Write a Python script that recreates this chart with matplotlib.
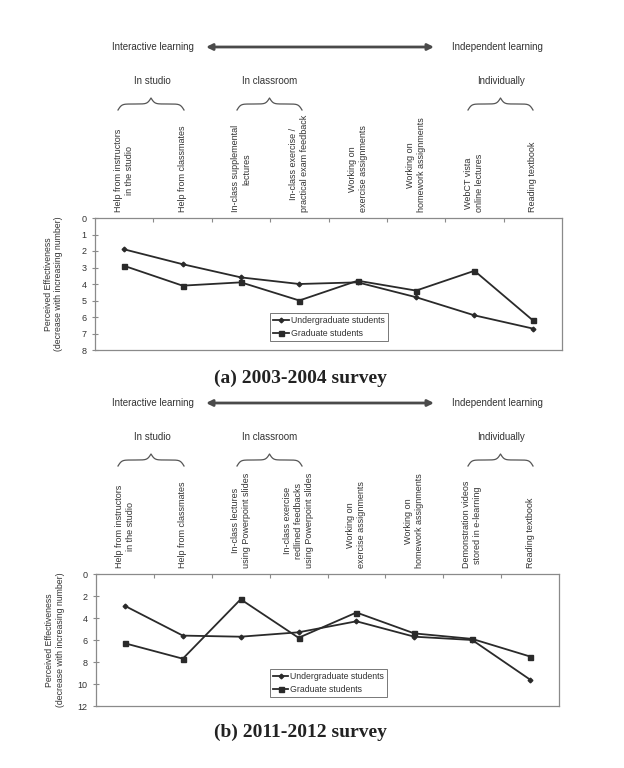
import matplotlib

matplotlib.use("Agg")

import matplotlib.pyplot as plt
import numpy as np

plt.rcParams["font.family"] = ["Liberation Sans", "DejaVu Sans"]

# ---- data -------------------------------------------------------------
labels_a = [
    "Help from instructors\nin the studio",
    "Help from classmates",
    "In-class supplemental\nlectures",
    "In-class exercise /\npractical exam feedback",
    "Working on\nexercise assignments",
    "Working on\nhomework assignments",
    "WebCT vista\nonline lectures",
    "Reading textbook",
]
under_a = [1.9, 2.8, 3.6, 4.0, 3.9, 4.8, 5.9, 6.7]
grad_a = [2.9, 4.1, 3.9, 5.0, 3.8, 4.4, 3.2, 6.2]
yticks_a = [0, 1, 2, 3, 4, 5, 6, 7, 8]

labels_b = [
    "Help from instructors\nin the studio",
    "Help from classmates",
    "In-class lectures\nusing Powerpoint slides",
    "In-class exercise\nredlined feedbacks\nusing Powerpoint slides",
    "Working on\nexercise assignments",
    "Working on\nhomework assignments",
    "Demonstration videos\nstored in e-learning",
    "Reading textbook",
]
under_b = [2.9, 5.6, 5.7, 5.3, 4.3, 5.7, 6.0, 9.6]
grad_b = [6.3, 7.7, 2.3, 5.8, 3.5, 5.4, 5.9, 7.5]
yticks_b = [0, 2, 4, 6, 8, 10, 12]

series_names = ["Undergraduate students", "Graduate students"]
titles = ["(a) 2003-2004 survey", "(b) 2011-2012 survey"]

W, H = 624, 768
INK = "#333333"
LINE = "#2a2a2a"
FRAME = "#8a8a8a"


def draw_panel(fig, rect, labels, under, grad, yticks):
    ax = fig.add_axes(rect)
    x = np.arange(1, len(labels) + 1)
    ax.plot(x, under, color=LINE, lw=1.3, marker="D", ms=2.4, label=series_names[0])
    ax.plot(x, grad, color=LINE, lw=1.3, marker="s", ms=3.6, label=series_names[1])
    ax.set_xlim(0.5, len(labels) + 0.5)
    ax.set_ylim(yticks[-1], yticks[0])
    ax.set_yticks(yticks)
    ax.tick_params(axis="y", labelsize=6.5, labelcolor=INK, color=FRAME,
                   direction="inout", length=4, width=0.8, pad=4)

    ax.xaxis.tick_top()
    ax.set_xticks(np.arange(1.5, len(labels), 1.0))
    ax.set_xticklabels([])
    ax.set_xticks(x, labels=labels, minor=True)
    ax.tick_params(axis="x", which="major", direction="in", length=3,
                   width=0.8, color=FRAME)
    ax.tick_params(axis="x", which="minor", length=0, labelsize=6.5,
                   labelcolor=INK, pad=4, labelrotation=90)
    for t in ax.get_xticklabels(minor=True):
        t.set_linespacing(1.3)

    for s in ax.spines.values():
        s.set_color(FRAME)
        s.set_linewidth(0.9)

    ax.set_ylabel("Perceived Effectiveness\n(decrease with increasing number)",
                  fontsize=6.3, color=INK, linespacing=1.2)
    ax.yaxis.set_label_coords(-0.068, 0.5)

    leg = ax.legend(loc="lower left", bbox_to_anchor=(0.375, 0.065),
                    fontsize=6.3, frameon=True, fancybox=False,
                    handlelength=1.8, handletextpad=0.2, borderpad=0.35,
                    labelspacing=0.5, borderaxespad=0)
    leg.get_frame().set_edgecolor("#555555")
    leg.get_frame().set_linewidth(0.7)
    for t in leg.get_texts():
        t.set_color(INK)
    return ax


def brace(ov, x0, x1, y_tip, y_end, beta=18):
    n = 201
    xh = np.linspace(0, 1, n // 2 + 1)
    yh = 1 / (1 + np.exp(-beta * (xh - xh[0]))) + 1 / (1 + np.exp(-beta * (xh - xh[-1])))
    yy = np.concatenate((yh, yh[-2::-1]))
    xx = np.linspace(x0, x1, len(yy))
    yy = y_end - (yy - 0.5) * (y_end - y_tip)
    ov.plot(xx, yy, color="#555555", lw=0.9)


def header(ov, top):
    # top = pixel y of axes top
    y_arrow = top - 171
    ov.text(112, y_arrow, "Interactive learning", fontsize=7, color=INK,
            ha="left", va="center")
    ov.text(543, y_arrow, "Independent learning", fontsize=7, color=INK,
            ha="right", va="center")
    ov.annotate("", xy=(434, y_arrow), xytext=(206, y_arrow),
                arrowprops=dict(arrowstyle="<|-|>", color="#4a4a4a", lw=2.0,
                                mutation_scale=9, shrinkA=0, shrinkB=0))
    y_grp = top - 137
    for xc, name in [(152, "In studio"), (270, "In classroom"), (501, "Individually")]:
        ov.text(xc, y_grp, name, fontsize=7, color=INK, ha="center", va="center")
    for x0, x1 in [(118, 184), (237, 302), (468, 533)]:
        brace(ov, x0, x1, top - 120, top - 108)


fig = plt.figure(figsize=(W / 100, H / 100), dpi=100)

axes_px = [(95, 218, 562, 350), (96, 574, 559, 706)]
data = [(labels_a, under_a, grad_a, yticks_a), (labels_b, under_b, grad_b, yticks_b)]
for (l, t, r, b), d in zip(axes_px, data):
    rect = [l / W, 1 - b / H, (r - l) / W, (b - t) / H]
    draw_panel(fig, rect, *d)

ov = fig.add_axes([0, 0, 1, 1], zorder=-1)
ov.set_xlim(0, W)
ov.set_ylim(H, 0)
ov.axis("off")

for (l, t, r, b) in axes_px:
    header(ov, t)

for yc, title in zip([378, 732], titles):
    ov.text(300, yc, title, fontsize=14, fontweight="bold", color="#222222",
            family="Liberation Serif", ha="center", va="center")

fig.savefig("out.png", dpi=100)
plt.close(fig)
